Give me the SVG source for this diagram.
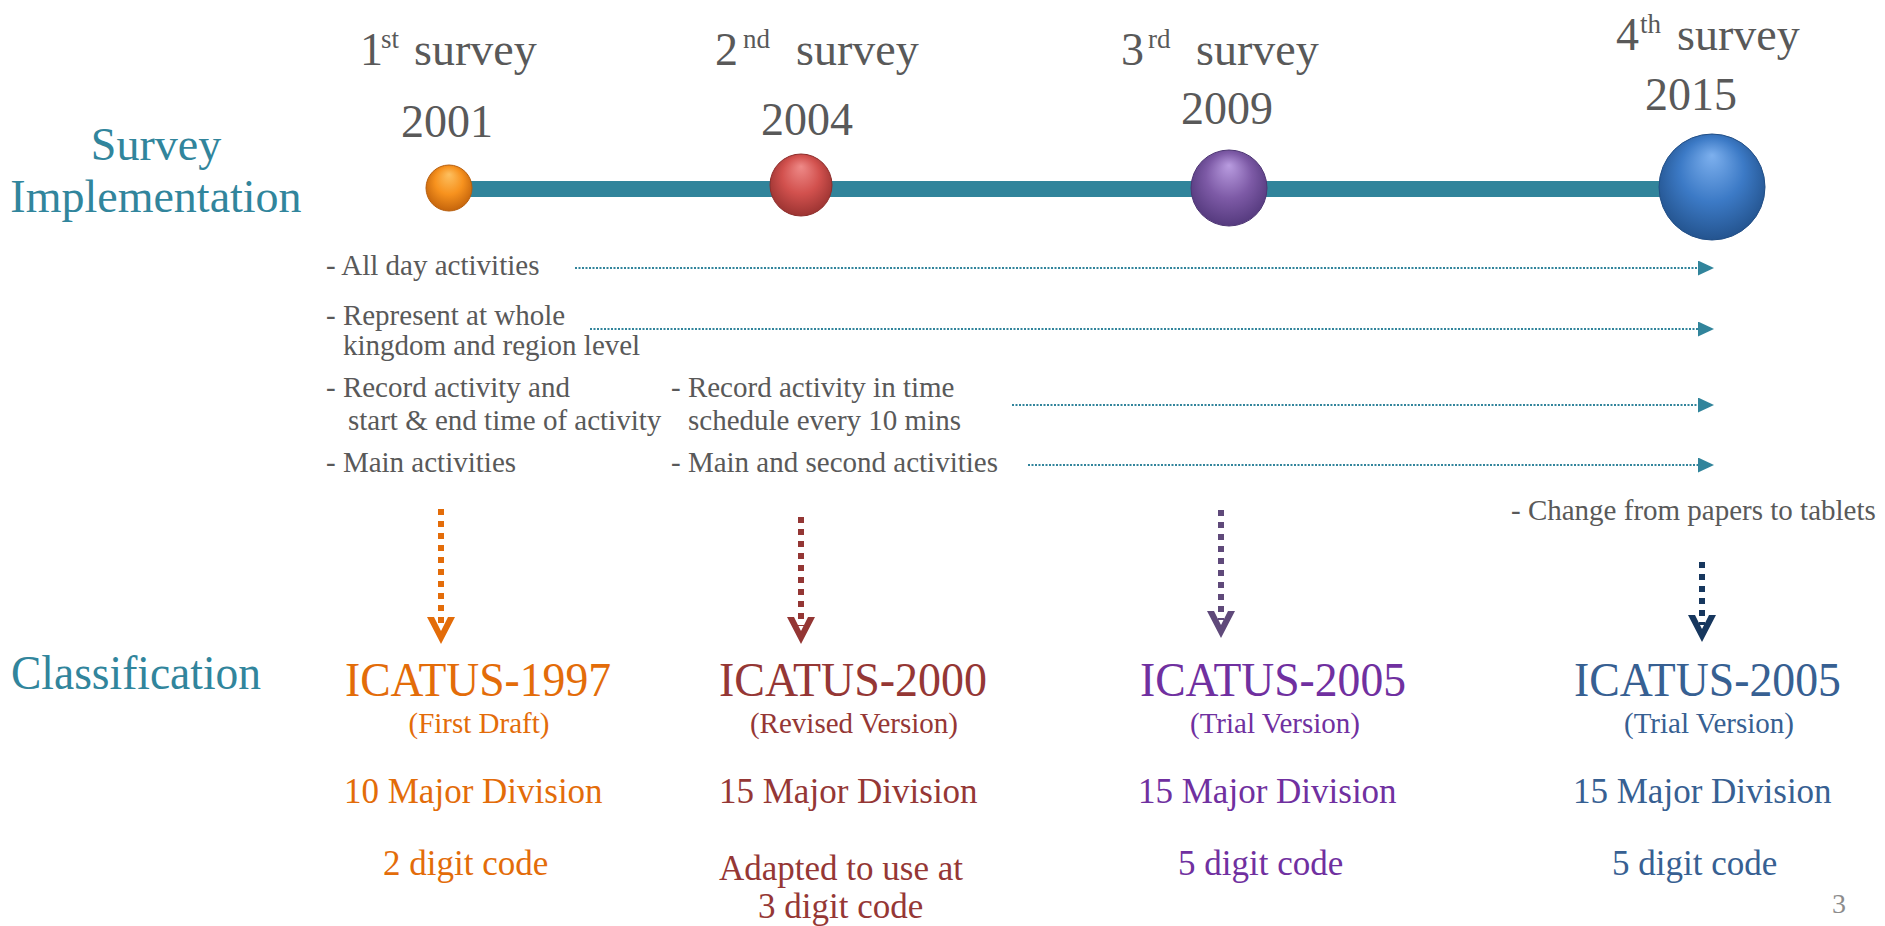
<svg xmlns="http://www.w3.org/2000/svg" width="1885" height="926" viewBox="0 0 1885 926">
<style>
text{font-family:"Liberation Serif","Times New Roman",serif;}
.gray{fill:#595959;}
.head{font-size:46px;}
.sup{font-size:27px;}
.act{font-size:29px;fill:#595959;}
.teal{fill:#31859C;font-size:46px;}
.title{font-size:48px;}
.sub{font-size:29px;}
.row{font-size:35px;}
.or{fill:#E36C09;}
.rd{fill:#953735;}
.pu{fill:#7030A0;}
.nv{fill:#376092;}
.hline{stroke:#31849B;stroke-width:2;stroke-dasharray:2 1.5;fill:none;}
.vline{stroke-width:6;stroke-dasharray:6 6;fill:none;}
</style>
<defs>
<radialGradient id="gOr" cx="50%" cy="45%" r="55%" fx="50%" fy="20%">
<stop offset="0" stop-color="#FDC060"/><stop offset="0.55" stop-color="#F7921E"/><stop offset="1" stop-color="#C5650C"/>
</radialGradient>
<radialGradient id="gRd" cx="50%" cy="45%" r="55%" fx="50%" fy="20%">
<stop offset="0" stop-color="#EE8A88"/><stop offset="0.55" stop-color="#D2514E"/><stop offset="1" stop-color="#9C3432"/>
</radialGradient>
<radialGradient id="gPu" cx="50%" cy="45%" r="55%" fx="50%" fy="20%">
<stop offset="0" stop-color="#B99CE0"/><stop offset="0.55" stop-color="#7D5AA6"/><stop offset="1" stop-color="#553A7E"/>
</radialGradient>
<radialGradient id="gBl" cx="50%" cy="45%" r="55%" fx="50%" fy="20%">
<stop offset="0" stop-color="#7DB0EE"/><stop offset="0.55" stop-color="#3C7AC6"/><stop offset="1" stop-color="#24548F"/>
</radialGradient>
<marker id="tri" markerUnits="userSpaceOnUse" markerWidth="16" markerHeight="16" refX="0" refY="7.5" orient="auto">
<path d="M0,0 L16,7.5 L0,15 Z" fill="#31849B"/>
</marker>
</defs>

<g id="labels">
<text class="teal" x="156" y="160" text-anchor="middle">Survey</text>
<text class="teal" x="156" y="212" text-anchor="middle">Implementation</text>
<text class="teal" x="11" y="689" font-size="48" style="font-size:48px" textLength="250" lengthAdjust="spacingAndGlyphs">Classification</text>
</g>

<g id="connectors">
<line x1="449" y1="189" x2="1712" y2="189" stroke="#31849B" stroke-width="16"/>
<line class="hline" x1="575" y1="268" x2="1698" y2="268" marker-end="url(#tri)"/>
<line class="hline" x1="590" y1="329" x2="1698" y2="329" marker-end="url(#tri)"/>
<line class="hline" x1="1012" y1="405" x2="1698" y2="405" marker-end="url(#tri)"/>
<line class="hline" x1="1028" y1="465" x2="1698" y2="465" marker-end="url(#tri)"/>
<line class="vline" x1="441" y1="509" x2="441" y2="626" stroke="#E36C09"/>
<polygon points="427,617 434,617 441,631 448,617 455,617 441,644" fill="#E36C09"/>
<line class="vline" x1="801" y1="517" x2="801" y2="626" stroke="#943634"/>
<polygon points="787,617 794,617 801,631 808,617 815,617 801,644" fill="#943634"/>
<line class="vline" x1="1221" y1="510" x2="1221" y2="620" stroke="#5F497A"/>
<polygon points="1207,611 1214,611 1221,625 1228,611 1235,611 1221,638" fill="#5F497A"/>
<line class="vline" x1="1702" y1="562" x2="1702" y2="625" stroke="#17375E"/>
<polygon points="1688,615 1695,615 1702,629 1709,615 1716,615 1702,642" fill="#17375E"/>
</g>

<g id="survey1">
<circle cx="449" cy="188" r="23" fill="url(#gOr)" stroke="#B85F0E" stroke-width="1"/>
<text class="gray head" x="360" y="65">1</text>
<text class="gray sup" x="381" y="48">st</text>
<text class="gray head" x="414" y="65">survey</text>
<text class="gray head" x="401" y="137">2001</text>
</g>

<g id="survey2">
<circle cx="801" cy="185" r="31" fill="url(#gRd)" stroke="#8E2E2C" stroke-width="1"/>
<text class="gray head" x="715" y="65">2</text>
<text class="gray sup" x="743" y="48">nd</text>
<text class="gray head" x="796" y="65">survey</text>
<text class="gray head" x="761" y="135">2004</text>
</g>

<g id="survey3">
<circle cx="1229" cy="188" r="38" fill="url(#gPu)" stroke="#4E3674" stroke-width="1"/>
<text class="gray head" x="1121" y="65">3</text>
<text class="gray sup" x="1148" y="48">rd</text>
<text class="gray head" x="1196" y="65">survey</text>
<text class="gray head" x="1181" y="124">2009</text>
</g>

<g id="survey4">
<circle cx="1712" cy="187" r="53" fill="url(#gBl)" stroke="#214E86" stroke-width="1"/>
<text class="gray head" x="1616" y="50">4</text>
<text class="gray sup" x="1640" y="33">th</text>
<text class="gray head" x="1677" y="50">survey</text>
<text class="gray head" x="1645" y="110">2015</text>
</g>

<g id="activities">
<text class="act" x="326" y="275">- All day activities</text>
<text class="act" x="326" y="325">- Represent at whole</text>
<text class="act" x="343" y="355">kingdom and region level</text>
<text class="act" x="326" y="397">- Record activity and</text>
<text class="act" x="348" y="430">start &amp; end time of activity</text>
<text class="act" x="671" y="397">- Record activity in time</text>
<text class="act" x="688" y="430">schedule every 10 mins</text>
<text class="act" x="326" y="472">- Main activities</text>
<text class="act" x="671" y="472">- Main and second activities</text>
<text class="act" x="1511" y="520">- Change from papers to tablets</text>
</g>

<g id="class1">
<text class="title or" x="345" y="696" textLength="266" lengthAdjust="spacingAndGlyphs">ICATUS-1997</text>
<text class="sub or" x="479" y="733" text-anchor="middle">(First Draft)</text>
<text class="row or" x="344" y="803">10 Major Division</text>
<text class="row or" x="383" y="875">2 digit code</text>
</g>

<g id="class2">
<text class="title rd" x="719" y="696" textLength="268" lengthAdjust="spacingAndGlyphs">ICATUS-2000</text>
<text class="sub rd" x="854" y="733" text-anchor="middle">(Revised Version)</text>
<text class="row rd" x="719" y="803">15 Major Division</text>
<text class="row rd" x="719" y="880">Adapted to use at</text>
<text class="row rd" x="758" y="918">3 digit code</text>
</g>

<g id="class3">
<text class="title pu" x="1140" y="696" textLength="266" lengthAdjust="spacingAndGlyphs">ICATUS-2005</text>
<text class="sub pu" x="1275" y="733" text-anchor="middle">(Trial Version)</text>
<text class="row pu" x="1138" y="803">15 Major Division</text>
<text class="row pu" x="1178" y="875">5 digit code</text>
</g>

<g id="class4">
<text class="title nv" x="1574" y="696" textLength="267" lengthAdjust="spacingAndGlyphs">ICATUS-2005</text>
<text class="sub nv" x="1709" y="733" text-anchor="middle">(Trial Version)</text>
<text class="row nv" x="1573" y="803">15 Major Division</text>
<text class="row nv" x="1612" y="875">5 digit code</text>
</g>

<g id="page">
<text x="1832" y="913" font-size="28" fill="#8C8C8C">3</text>
</g>
</svg>
